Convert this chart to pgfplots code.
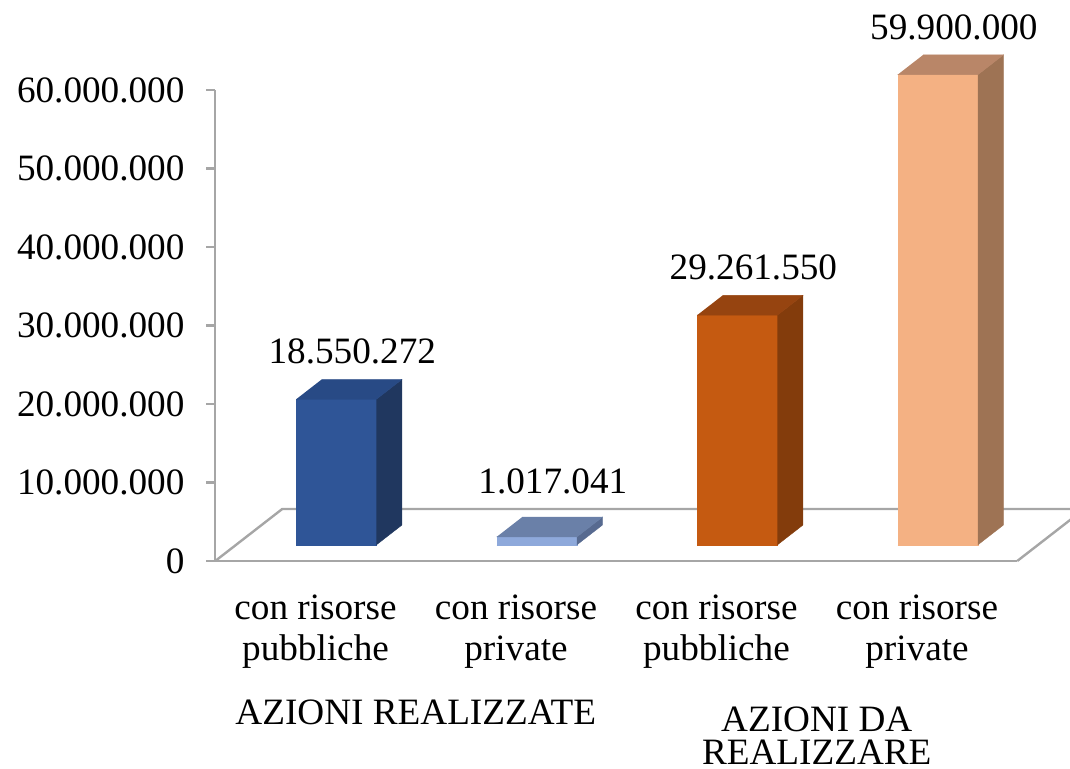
\documentclass[border=0pt]{standalone}
\usepackage{pgfplots}
\pgfplotsset{compat=1.18}
\usepackage{fontspec}
\setmainfont{Liberation Serif}

% one pixel of the reference
\newlength\px
\setlength\px{0.25pt}
\newcommand\fsz{\fontsize{9.3pt}{10.25pt}\selectfont}

\definecolor{linegray}{HTML}{A6A6A6}
\definecolor{pubF}{HTML}{2F5597}\definecolor{pubS}{HTML}{20375F}\definecolor{pubT}{HTML}{284A85}
\definecolor{priF}{HTML}{8EA9DB}\definecolor{priS}{HTML}{576A90}\definecolor{priT}{HTML}{6A80A8}
\definecolor{dpubF}{HTML}{C55A11}\definecolor{dpubS}{HTML}{833C0C}\definecolor{dpubT}{HTML}{964410}
\definecolor{dpriF}{HTML}{F4B183}\definecolor{dpriS}{HTML}{9E7354}\definecolor{dpriT}{HTML}{B98668}

% a 3d bar: left x, right x, value (millions), front / side / top colours
\newcommand\barbox[6]{%
  \addplot3[fill=#4, draw=#4, line width=0.1pt] coordinates {(#1,0.31,0) (#2,0.31,0) (#2,0.31,#3) (#1,0.31,#3)};
  \addplot3[fill=#5, draw=#5, line width=0.1pt] coordinates {(#2,0.31,0) (#2,0.69,0) (#2,0.69,#3) (#2,0.31,#3)};
  \addplot3[fill=#6, draw=#6, line width=0.1pt] coordinates {(#1,0.31,#3) (#2,0.31,#3) (#2,0.69,#3) (#1,0.69,#3)};
}

\begin{document}
\begin{tikzpicture}[font=\fsz]
% value axis and categories
\begin{axis}[
  at={(0,0)}, anchor=origin,
  scale only axis, width=802\px, height=471\px,
  xmin=-0.5, xmax=3.5, ymin=0, ymax=60,
  axis lines*=left,
  axis line style={linegray, line width=0.6pt},
  tick align=outside, major tick length=9\px,
  xtick={0,1,2,3},
  xticklabels={{con risorse\\pubbliche},{con risorse\\private},{con risorse\\pubbliche},{con risorse\\private}},
  xticklabel style={font=\fsz, align=center, anchor=north, inner sep=0pt, yshift=-24\px},
  xtick style={draw=none},
  ytick={0,10,20,30,40,50,60},
  yticklabels={0,10.000.000,20.000.000,30.000.000,40.000.000,50.000.000,60.000.000},
  yticklabel style={font=\fsz, anchor=east, inner sep=0pt, xshift=-21\px},
  ytick style={linegray, line width=0.6pt},
  clip=false,
]
\node[anchor=base, yshift=-164\px] at (axis cs:0.5,0) {AZIONI REALIZZATE};
\node[anchor=base, yshift=-170\px] at (axis cs:2.5,0) {AZIONI DA};
\node[anchor=base, yshift=-204\px] at (axis cs:2.5,0) {REALIZZARE};
\end{axis}

% floor and bars, values in millions
\begin{axis}[
  at={(0,0)}, anchor=origin,
  x={(200.5\px,0)}, y={(67\px,52\px)}, z={(0,7.85\px)},
  xmin=-0.5, xmax=3.5, ymin=0, ymax=1, zmin=0, zmax=60,
  hide axis, clip=false,
]
\draw[linegray, line width=0.6pt] (axis cs:-0.5,0,0) -- (axis cs:-0.5,1,0) -- (axis cs:3.5,1,0) -- (axis cs:3.5,0,0);
\barbox{-0.2}{0.2}{18.550272}{pubF}{pubS}{pubT}
\barbox{0.8}{1.2}{1.017041}{priF}{priS}{priT}
\barbox{1.8}{2.2}{29.26155}{dpubF}{dpubS}{dpubT}
\barbox{2.8}{3.2}{59.9}{dpriF}{dpriS}{dpriT}
\addplot3[draw=none, nodes near coords, point meta=explicit symbolic,
  every node near coord/.append style={font=\fsz, anchor=base, inner sep=0pt, yshift=23\px}]
  coordinates {(0,0.55,18.550272) [18.550.272] (2,0.55,29.26155) [29.261.550] (3,0.55,59.9) [59.900.000]};
\addplot3[draw=none, nodes near coords, point meta=explicit symbolic,
  every node near coord/.append style={font=\fsz, anchor=base, inner sep=0pt, yshift=31\px}]
  coordinates {(1,0.55,1.017041) [1.017.041]};
\end{axis}

\pgfresetboundingbox
\useasboundingbox (-315.5\px,-208\px) rectangle (754.5\px,561\px);
\end{tikzpicture}
\end{document}
